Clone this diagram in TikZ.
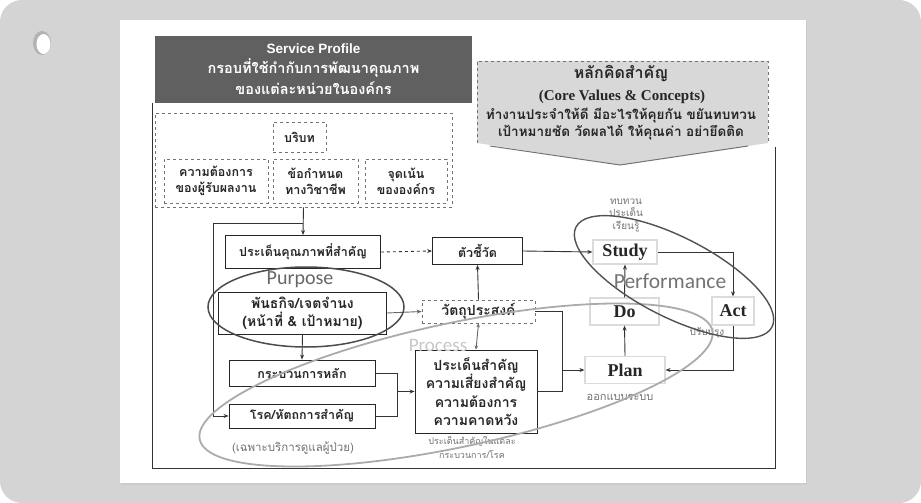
\documentclass[tikz,border=0pt]{standalone}
\usepackage{fontspec}
\newfontfamily\thai[Script=Thai]{Loma}
\newfontfamily\lsans{Liberation Sans}
\newfontfamily\lserif{Liberation Serif}
\newfontfamily\carl{Carlito}
\usetikzlibrary{arrows.meta}
\definecolor{cardgray}{HTML}{D4D4D4}
\definecolor{darkhead}{HTML}{606060}
\definecolor{cvfill}{HTML}{D8D8D8}
\begin{document}
\begin{tikzpicture}[x=1pt,y=-1pt,
  box/.style={draw=black!85, line width=0.9pt, fill=white, align=center, inner sep=0pt,
    font=\thai\bfseries\fontsize{12.5}{16}\selectfont, text=black!85},
  dbox/.style={box, dashed, draw=black!55, line width=0.7pt},
  pdsa/.style={draw=black!14, line width=1.2pt, fill=white, inner sep=0pt,
    font=\lserif\bfseries\fontsize{18}{20}\selectfont, text=black!85},
  con/.style={draw=black!80, line width=0.9pt},
  arr/.style={con, -{Stealth[length=5pt,width=4pt]}},
  note/.style={font=\thai\fontsize{10}{12.5}\selectfont, text=black!55, align=center, inner sep=0pt},
  headline/.style={inner sep=0pt, text=white, font=\thai\bfseries\fontsize{14.5}{17}\selectfont},
  cvline/.style={inner sep=0pt, text=black!85, font=\thai\bfseries\fontsize{13.5}{16}\selectfont},
  biglabel/.style={font=\carl\fontsize{20}{22}\selectfont, inner sep=0pt}]
\useasboundingbox (0,0) rectangle (921,503);

% card, punched hole and white sheet
\fill[white] (0,0) rectangle (921,503);
\fill[cardgray, rounded corners=22pt] (0,0) rectangle (921,503);
\fill[black!30] (42,43) ellipse [x radius=9, y radius=12];
\fill[white] (43.5,44) ellipse [x radius=7, y radius=10];
\fill[black!20] (121,21) rectangle (807,485);
\fill[white] (120,20) rectangle (806,483);

% header: Service Profile
\node[fill=darkhead, minimum width=317pt, minimum height=66pt, inner sep=0pt] (sp) at (313.5,69.5) {};
\node[headline, font=\lsans\bfseries\fontsize{13.5}{16}\selectfont] (sp1) at (313.5,49) {Service Profile};
\node[headline] (sp2) at (313.5,68) {กรอบที่ใช้กำกับการพัฒนาคุณภาพ};
\node[headline] (sp3) at (313.5,88) {ของแต่ละหน่วยในองค์กร};

% core values: banner with a downward point
\fill[cvfill] (477,61) -- (768,61) -- (768,143) -- (620,165) -- (477,143) -- cycle;
\draw[black!55, dashed, line width=0.7pt] (477,143) -- (477,61) -- (768,61) -- (768,143);
\draw[black!55, line width=1pt] (490,146) -- (620,165) -- (748,146);
\node[cvline, font=\thai\bfseries\fontsize{16}{18}\selectfont] (cv1) at (621,74) {หลักคิดสำคัญ};
\node[cvline, font=\lserif\bfseries\fontsize{15}{18}\selectfont] (cv2) at (622,97) {(Core Values \& Concepts)};
\node[cvline] (cv3) at (621,116) {ทำงานประจำให้ดี มีอะไรให้คุยกัน ขยันทบทวน};
\node[cvline] (cv4) at (621,133) {เป้าหมายชัด วัดผลได้ ให้คุณค่า อย่ายึดติด};

% outer frame
\draw[con] (152,103) -- (152,468) -- (775,468) -- (775,147);

% context block
\node[dbox, fill=none, minimum width=297pt, minimum height=94pt] (ctx) at (303.5,160) {};
\node[dbox, minimum width=53pt, minimum height=30pt] (brbt) at (299.5,137) {บริบท};
\node[dbox, minimum width=104pt, minimum height=44pt] (n1) at (216,181) {ความต้องการ\\ของผู้รับผลงาน};
\node[dbox, minimum width=85pt, minimum height=44pt] (n2) at (315.5,181) {ข้อกำหนด\\ทางวิชาชีพ};
\node[dbox, minimum width=82pt, minimum height=44pt] (n3) at (406,181) {จุดเน้น\\ขององค์กร};

% main boxes
\node[box, minimum width=155pt, minimum height=33pt] (q) at (303,252) {ประเด็นคุณภาพที่สำคัญ};
\node[box, minimum width=90pt, minimum height=27pt] (kpi) at (477.5,251) {ตัวชี้วัด};
\node[box, minimum width=168pt, minimum height=42pt, font=\thai\bfseries\fontsize{14}{18}\selectfont]
  (mis) at (302.5,313) {พันธกิจ/เจตจำนง\\(หน้าที่ \& เป้าหมาย)};
\node[dbox, minimum width=113pt, minimum height=23pt, font=\thai\bfseries\fontsize{14}{16}\selectfont]
  (obj) at (478.5,311.5) {วัตถุประสงค์};
\node[box, minimum width=146pt, minimum height=26pt] (proc) at (302,373) {กระบวนการหลัก};
\node[box, minimum width=146pt, minimum height=24pt] (dis) at (302,416) {โรค/หัตถการสำคัญ};
\node[box, minimum width=122pt, minimum height=83pt, font=\thai\bfseries\fontsize{14}{18.5}\selectfont]
  (iss) at (476,391.5) {ประเด็นสำคัญ\\ความเสี่ยงสำคัญ\\ความต้องการ\\ความคาดหวัง};

% PDSA boxes
\node[pdsa, minimum width=64pt, minimum height=24pt] (study) at (625,252) {Study};
\node[pdsa, minimum width=69pt, minimum height=27pt] (do) at (624.5,311.5) {Do};
\node[pdsa, minimum width=42pt, minimum height=28pt] (act) at (733,311) {Act};
\node[pdsa, minimum width=80pt, minimum height=27pt] (plan) at (625,370) {Plan};

% junction points
\coordinate (j1) at (303,223);
\coordinate (l1) at (213,223);
\coordinate (m1) at (397,373);
\coordinate (m2) at (397,416);
\coordinate (m3) at (397,391.5);
\coordinate (r1) at (562,311.5);
\coordinate (r2) at (562,391.5);
\coordinate (r3) at (562,370);
\coordinate (s1) at (733,252);
\coordinate (a1) at (733,370);

% connectors
\draw[arr] (ctx.south) -- (q.north);
\draw[arr] (j1) -- (l1) |- (dis.west);
\draw[arr, dashed] (q.east) -- (kpi.west);
\draw[arr] (kpi.east) -- (study.west);
\draw[arr, draw=black!60] (mis.east) -- (obj.west);
\draw[arr] (obj.north) -- (kpi.south);
\draw[con, draw=black!60, {Stealth[length=4pt,width=3.5pt]}-{Stealth[length=4pt,width=3.5pt]}] (obj.south) -- (iss.north);
\draw[arr] (mis.south) -- (proc.north);
\draw[con] (proc.east) -- (m1) -- (m2) -- (dis.east);
\draw[arr] (m3) -- (iss.west);
\draw[con] (obj.east) -- (r1) -- (r2) -- (iss.east);
\draw[arr] (r3) -- (plan.west);
\draw[arr] (plan.north) -- (do.south);
\draw[arr] (do.north) -- (study.south);
\draw[arr] (study.east) -- (s1) -- (act.north);
\draw[arr] (act.south) -- (a1) -- (plan.east);

% small notes
\node[note] (n_review) at (626,215) {ทบทวน\\ประเด็น\\เรียนรู้};
\node[note] (n_improve) at (707,333) {ปรับปรุง};
\node[note, font=\thai\fontsize{11}{12}\selectfont] (n_design) at (620,397) {ออกแบบระบบ};
\node[note, font=\thai\fontsize{11.5}{12}\selectfont] (n_care) at (293,448) {(เฉพาะบริการดูแลผู้ป่วย)};
\node[note, font=\thai\fontsize{9}{14}\selectfont] (n_each) at (472,447) {ประเด็นสำคัญในแต่ละ\\กระบวนการ/โรค};

% rings
\draw[black!33, line width=1.8pt, rotate around={12:(456,385)}] (456,385) ellipse [x radius=262, y radius=62];
\draw[black!68, line width=1.4pt, rotate around={-27:(674,277)}] (674,277) ellipse [x radius=110, y radius=40];
\draw[black!70, line width=1.5pt] (306,307) ellipse [x radius=98, y radius=40];

% ring labels
\node[biglabel, text=black!60] (lp) at (300,280) {Purpose};
\node[biglabel, text=black!22, font=\carl\fontsize{19}{21}\selectfont] (lpr) at (438,345) {Process};
\node[biglabel, text=black!55, font=\carl\fontsize{21.5}{23}\selectfont] (lpf) at (670,281) {Performance};
\end{tikzpicture}
\end{document}
